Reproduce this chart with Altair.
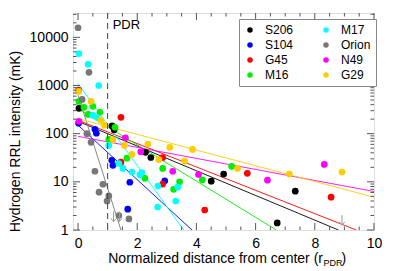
import altair as alt
import pandas as pd

FONT = "Liberation Sans"
W, H = 301, 217

# ---------------- data ----------------
names = ["S206", "S104", "G45", "M16", "M17", "Orion", "N49", "G29"]
colors = ["#000000", "#0000ff", "#ff0000", "#00ee00", "#00ffff", "#777777", "#ff00ff", "#ffcc00"]

S206_x = [0.03, 1.15, 1.22, 2.28, 2.46, 4.50, 4.92, 6.73, 7.34]
S206_y = [336, 145, 120, 41, 32, 10.3, 14.5, 1.4, 6.4]

S104_x = [0.02, 0.57, 0.62, 1.14, 1.18, 1.75, 1.68, 2.93]
S104_y = [165, 123, 102, 28, 22, 9.8, 2.7, 10.5]

G45_x = [0.02, 1.45, 1.45, 2.86, 2.86, 4.28, 5.72, 8.55]
G45_y = [800, 218, 25.6, 32, 9, 2.6, 15, 4.8]

M16_x = [0.03, 0.2, 0.5, 0.34, 0.74, 1.25, 1.04, 1.65, 2.26, 2.86, 3.43, 3.23, 4.2, 5.19]
M16_y = [468, 352, 369, 251, 277, 136, 76, 31, 11.8, 19, 10, 7, 11, 21]

M17_x = [0.03, 0.34, 0.7, 0.5, 0.64, 1.04, 1.38, 1.52, 1.82, 2.09, 2.15, 2.7, 3.37, 3.3, 2.69]
M17_y = [4600, 2750, 1000, 240, 218, 57, 24, 19, 16, 14, 15.5, 8.2, 7.8, 4.0, 3.0]

Orion_x = [0.0, 0.37, 0.14, 0.3, 0.44, 0.57, 0.84, 0.71, 1.04, 0.98, 1.38, 1.72]
Orion_y = [15800, 1880, 515, 100, 66, 16.6, 8.9, 6.1, 5.1, 4.0, 2.0, 1.7]

N49_x = [0.03, 1.6, 2.12, 3.2, 4.07, 6.4, 8.32]
N49_y = [180, 82, 42, 16.6, 14.2, 10.8, 23]

G29_x = [0.02, 0.44, 0.77, 0.9, 1.18, 1.57, 1.82, 2.36, 2.73, 3.1, 3.6, 3.87, 5.39, 7.14, 8.92]
G29_y = [755, 470, 190, 150, 75, 57, 37, 61, 29, 52, 27, 47, 19, 14.5, 16]

# exponential fits: two end points each (x0, y0) -> (x1, y1)
fit_x0 = [0, 0, 0, 0, 0, 0, 0, 0]
fit_y0 = [180, 150, 190, 330, 1100, 630, 88, 205]
fit_x1 = [8.8, 3.85, 9.4, 6.7, 3.57, 1.45, 10, 10]
fit_y1 = [1, 1, 1, 1, 1, 1, 6.3, 4.8]

# upper limits (arrows)
lim_x = [1.2, 1.4, 8.92]
lim_y = [1.9, 1.9, 1.6]

x_major = [0, 2, 4, 6, 8, 10]
x_minor = [0.5, 1, 1.5, 2.5, 3, 3.5, 4.5, 5, 5.5, 6.5, 7, 7.5, 8.5, 9, 9.5]
y_major = [1, 10, 100, 1000, 10000]
y_minor = [m * d for d in [1, 10, 100, 1000, 10000] for m in range(2, 10) if m * d <= 32000]

x_domain = [-0.17, 10]
y_domain = [1, 32000]

# ---------------- tables ----------------
series = {
    "S206": (S206_x, S206_y), "S104": (S104_x, S104_y), "G45": (G45_x, G45_y),
    "M16": (M16_x, M16_y), "M17": (M17_x, M17_y), "Orion": (Orion_x, Orion_y),
    "N49": (N49_x, N49_y), "G29": (G29_x, G29_y),
}
pts = pd.DataFrame(
    [{"name": n, "x": xv, "y": yv} for n in names for xv, yv in zip(*series[n])]
)
fits = pd.DataFrame(
    [{"name": n, "x": a, "y": b, "o": 0} for n, a, b in zip(names, fit_x0, fit_y0)]
    + [{"name": n, "x": a, "y": b, "o": 1} for n, a, b in zip(names, fit_x1, fit_y1)]
)
lims = pd.DataFrame({"x": lim_x, "y": lim_y})

xs = alt.Scale(domain=x_domain, nice=False, zero=False)
ys = alt.Scale(type="log", domain=y_domain, nice=False)

xaxis = alt.Axis(values=x_major, title=None, ticks=False, domain=False, grid=False,
                 labelFontSize=14, labelFont=FONT, labelColor="black", labelPadding=6,
                 labelFlush=False, labelOverlap=False, format="d")
yaxis = alt.Axis(values=y_major, title="Hydrogen RRL intensity (mK)", ticks=False, domain=False,
                 grid=False, labelFontSize=14, labelFont=FONT, labelColor="black",
                 labelPadding=5, labelFlush=False, labelOverlap=False, format="d",
                 titleFontSize=14, titleFont=FONT, titleFontWeight="normal", titleColor="black",
                 titleX=-54, titleY=128, titleAngle=-90, titleAlign="center",
                 titleBaseline="alphabetic")

def X(f="x"):
    return alt.X(f + ":Q", scale=xs, axis=xaxis)

def Y(f="y"):
    return alt.Y(f + ":Q", scale=ys, axis=yaxis)

lines = alt.Chart(fits).mark_line(strokeWidth=0.9, clip=True).encode(
    x=X(), y=Y(), detail="name:N", order="o:Q",
    stroke=alt.Stroke("name:N", scale=alt.Scale(domain=names, range=colors), legend=None),
)

points = alt.Chart(pts).mark_circle(size=45, opacity=1).encode(
    x=X(), y=Y(),
    color=alt.Color("name:N", scale=alt.Scale(domain=names, range=colors),
                    legend=alt.Legend(title=None, orient="none", legendX=166, legendY=6,
                                      columns=2, symbolType="circle", symbolSize=30,
                                      labelFontSize=12, labelFont=FONT, labelColor="black",
                                      labelOffset=9, columnPadding=26, rowPadding=3,
                                      padding=5, strokeColor="#888", fillColor="white",
                                      symbolStrokeWidth=0)),
)

limits = alt.Chart(lims).mark_point(
    shape="M0,-1L0,1M-0.55,0.35L0,1L0.55,0.35", size=100, filled=False,
    color="#999999", strokeWidth=1, opacity=1,
).encode(x=X(), y=Y())

pdr = alt.Chart(pd.DataFrame({"x": [1]})).mark_rule(
    color="#444", strokeDash=[6, 4], strokeWidth=1).encode(x=X())
pdr_text = alt.Chart(pd.DataFrame({"x": [1], "t": ["PDR"]})).mark_text(
    align="left", baseline="middle", dx=5, fontSize=13, font=FONT, color="black"
).encode(x=X(), y=alt.value(12), text="t:N")

def tick_layer(vals, axis, length, side):
    df = pd.DataFrame({"v": vals})
    m = alt.Chart(df).mark_rule(color="#555", strokeWidth=1)
    if axis == "y":
        if side == "left":
            return m.encode(y=Y("v"), x=alt.value(0), x2=alt.value(length))
        return m.encode(y=Y("v"), x=alt.value(W), x2=alt.value(W - length))
    if side == "bottom":
        return m.encode(x=X("v"), y=alt.value(H), y2=alt.value(H - length))
    return m.encode(x=X("v"), y=alt.value(0), y2=alt.value(length))

ticks = [
    tick_layer(y_major, "y", 7, "left"), tick_layer(y_minor, "y", 3.5, "left"),
    tick_layer(y_major, "y", 7, "right"), tick_layer(y_minor, "y", 3.5, "right"),
    tick_layer(x_major, "x", 7, "bottom"), tick_layer(x_minor, "x", 3.5, "bottom"),
    tick_layer(x_major, "x", 7, "top"), tick_layer(x_minor, "x", 3.5, "top"),
]

xt1 = alt.Chart(pd.DataFrame({"t": ["Normalized distance from center (r"]})).mark_text(
    align="right", baseline="alphabetic", fontSize=14, font=FONT, color="black"
).encode(x=alt.value(250), y=alt.value(250), text="t:N")
xt2 = alt.Chart(pd.DataFrame({"t": ["PDR"]})).mark_text(
    align="left", baseline="alphabetic", fontSize=9, font=FONT, color="black"
).encode(x=alt.value(250.5), y=alt.value(253), text="t:N")
xt3 = alt.Chart(pd.DataFrame({"t": [")"]})).mark_text(
    align="left", baseline="alphabetic", fontSize=14, font=FONT, color="black"
).encode(x=alt.value(268.5), y=alt.value(250), text="t:N")

chart = alt.layer(
    lines, points, limits, pdr, pdr_text, *ticks, xt1, xt2, xt3
).resolve_scale(color="independent", stroke="independent").properties(
    width=W, height=H,
    autosize=alt.AutoSizeParams(type="none"),
    padding={"left": 65, "top": 5, "right": 20, "bottom": 40},
).configure_view(stroke="#555", strokeWidth=1).configure(font=FONT)

chart.save("out.html", embed_options={"renderer": "svg", "actions": False})
